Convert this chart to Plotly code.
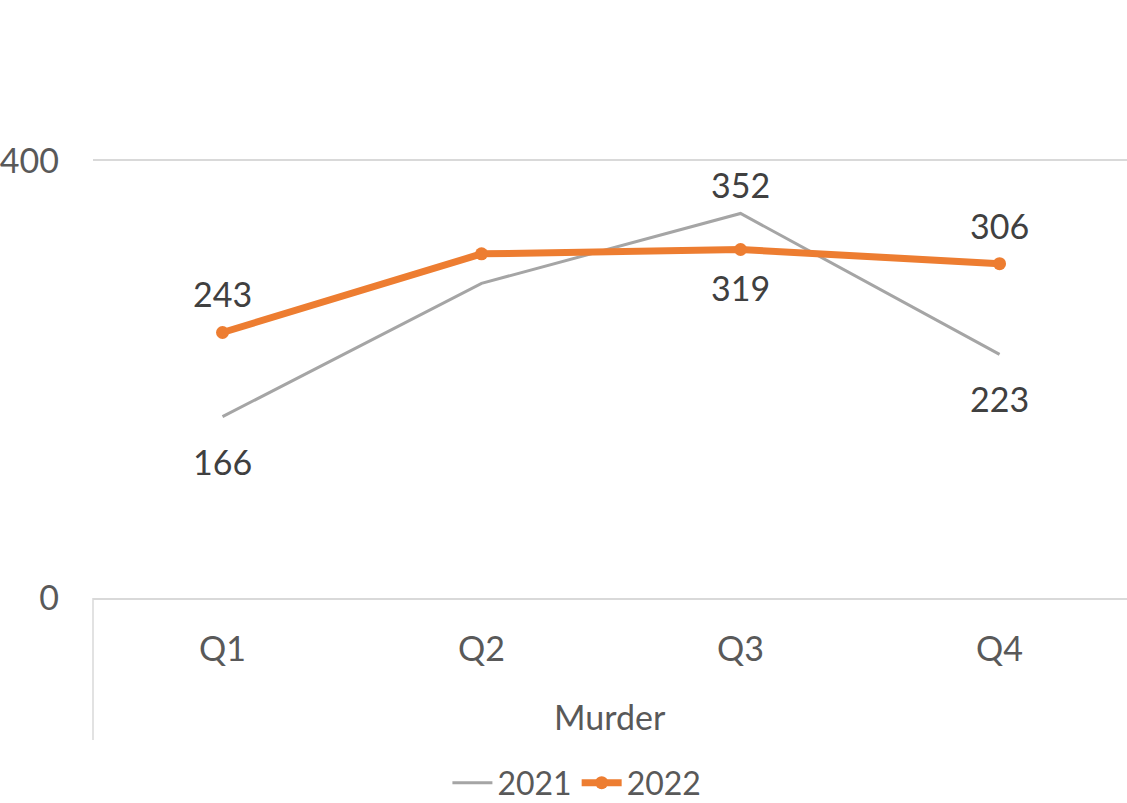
import plotly.graph_objects as go

categories = ["Q1", "Q2", "Q3", "Q4"]
group_label = "Murder"
values_2021 = [166, 288, 352, 223]
values_2022 = [243, 315, 319, 306]
labels_2021 = ["166", "", "352", "223"]
labels_2022 = ["243", "", "319", "306"]
y_ticks = [0, 400]

FONT = "Lato"
FS = 34
TXT = "#404040"
AX = "#595959"
GRID = "#d9d9d9"

shift_2021 = [-45, 0, 29, -44]
shift_2022 = [39, 0, -38, 38]

fig = go.Figure()
fig.add_trace(go.Scatter(x=categories, y=values_2021, name="2021", mode="lines",
                         line=dict(color="#a5a5a5", width=3)))
fig.add_trace(go.Scatter(x=categories, y=values_2022, name="2022", mode="lines+markers",
                         line=dict(color="#ed7d31", width=7),
                         marker=dict(color="#ed7d31", size=13)))

for lab, cat, v, s in zip(labels_2021, categories, values_2021, shift_2021):
    if lab:
        fig.add_annotation(x=cat, y=v, text=lab, showarrow=False, yshift=s,
                           font=dict(family=FONT, size=FS, color=TXT))
for lab, cat, v, s in zip(labels_2022, categories, values_2022, shift_2022):
    if lab:
        fig.add_annotation(x=cat, y=v, text=lab, showarrow=False, yshift=s,
                           font=dict(family=FONT, size=FS, color=TXT))

fig.add_annotation(x=0.5, xref="paper", y=-0.272, yref="paper", text=group_label,
                   showarrow=False, yanchor="middle",
                   font=dict(family=FONT, size=FS, color=AX))
fig.add_shape(type="line", xref="paper", yref="paper", x0=0, x1=0, y0=0, y1=-0.325,
              line=dict(color=GRID, width=1.5))

fig.update_layout(
    width=1127, height=803,
    margin=dict(l=93, r=0, t=161, b=205, autoexpand=False),
    paper_bgcolor="white", plot_bgcolor="white",
    font=dict(family=FONT, size=FS, color=AX),
    showlegend=True,
    legend=dict(orientation="h", x=0.468, xanchor="center", y=-0.423, yanchor="middle",
                font=dict(family=FONT, size=32, color=AX), itemwidth=40,
                traceorder="normal"),
    xaxis=dict(type="category", range=[-0.5, 3.492], showgrid=False, zeroline=False,
               showline=True, linecolor=GRID, linewidth=1.5, mirror=True,
               ticks="", ticklabelstandoff=20, automargin=False,
               tickfont=dict(family=FONT, size=FS, color=AX)),
    yaxis=dict(range=[0, 400], tickvals=y_ticks, showgrid=True, gridcolor=GRID, gridwidth=1.5,
               zeroline=False, showline=False, ticks="", ticklabelstandoff=33,
               automargin=False,
               tickfont=dict(family=FONT, size=FS, color=AX)),
)

fig.write_html("out.html", config={"displayModeBar": False},
               post_script="document.body.style.margin='0';")
